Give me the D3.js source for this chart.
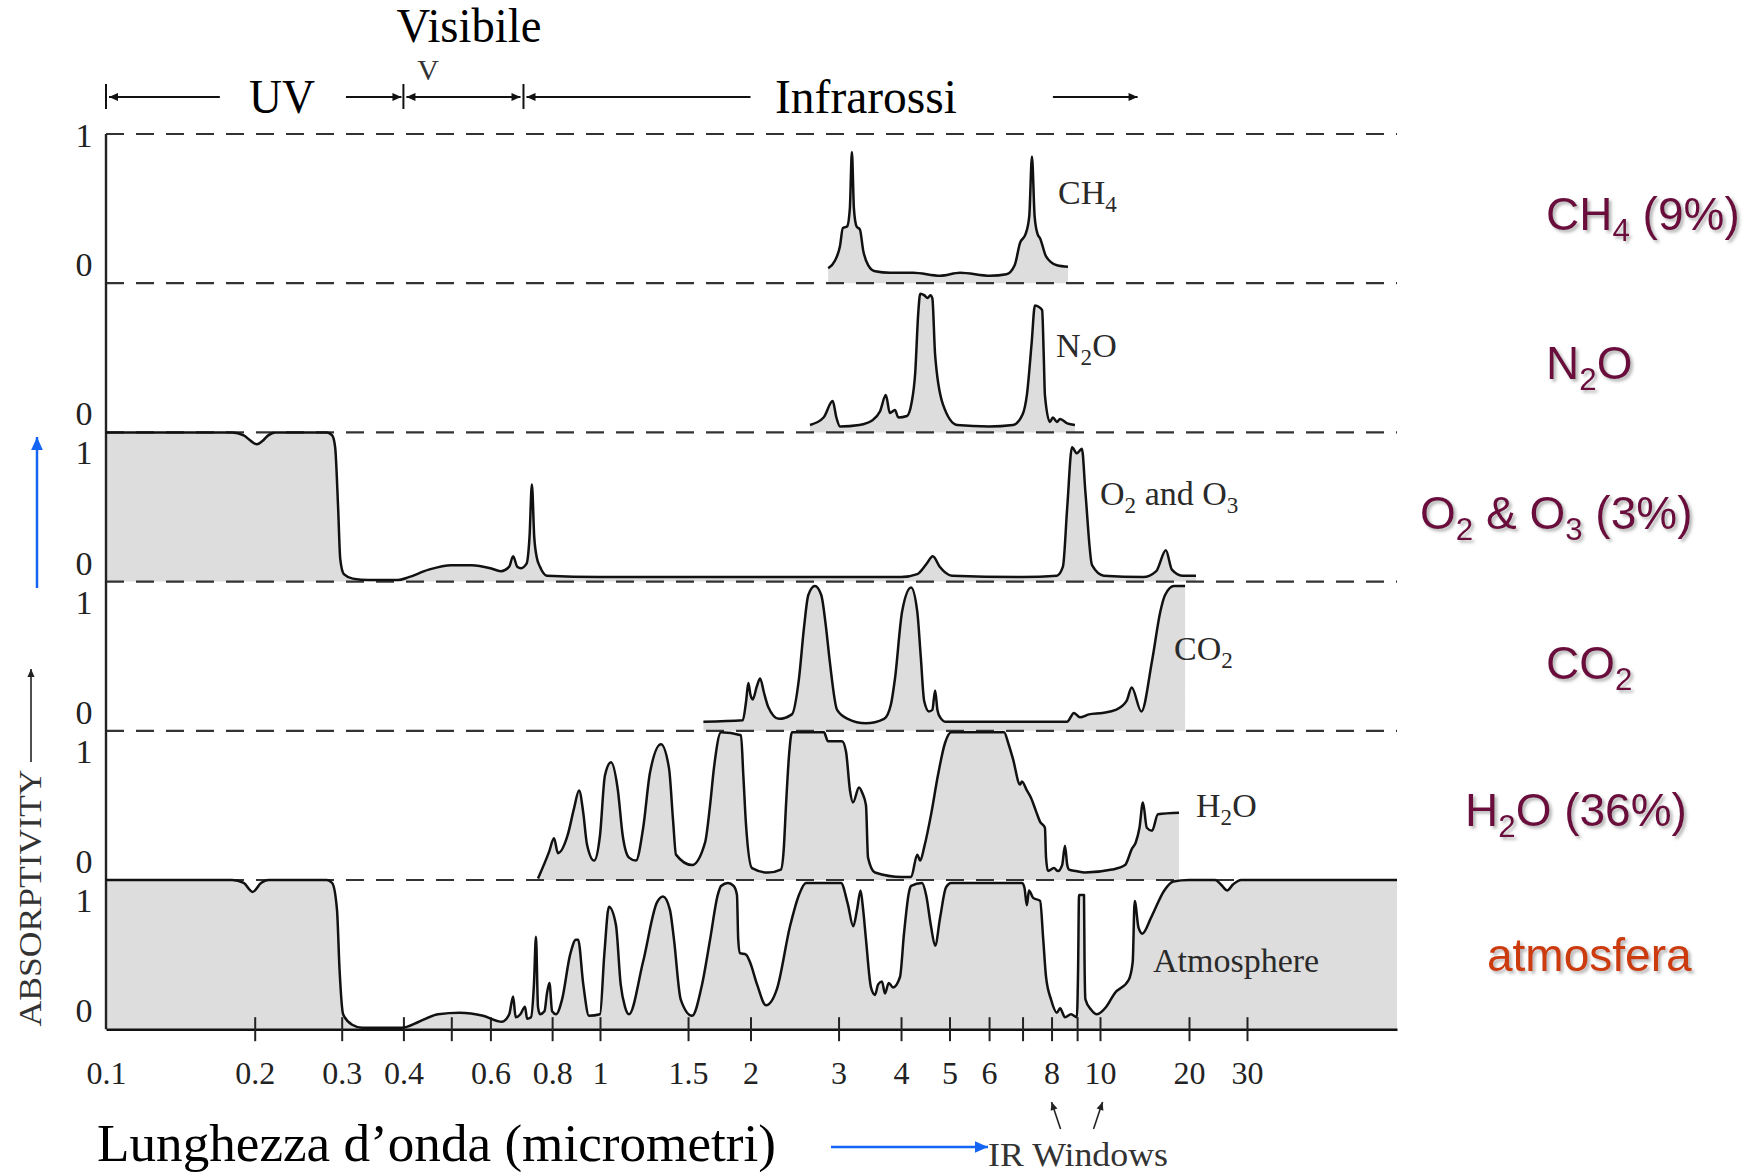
<!DOCTYPE html>
<html>
<head>
<meta charset="utf-8">
<script src="https://cdn.jsdelivr.net/npm/d3@7"></script>
<style>
  body { margin: 0; background: #fff; }
  svg { display: block; }
</style>
</head>
<body>
<svg id="chart" width="1750" height="1176"></svg>
<script>
// panels, top to bottom
var gases = ["CH{4}", "N{2}O", "O{2} and O{3}", "CO{2}", "H{2}O", "Atmosphere"];
var sideLabels = ["CH{4} (9%)", "N{2}O", "O{2} & O{3} (3%)", "CO{2}", "H{2}O (36%)", "atmosfera"];

// absorptivity spectra, [wavelength in micrometres, absorptivity 0..1]
var ch4 = [[2.86,0.10],[2.95,0.15],[3.02,0.25],[3.06,0.37],[3.12,0.38],[3.16,0.5],[3.19,0.88],[3.22,0.5],[3.26,0.38],
  [3.31,0.36],[3.36,0.22],[3.44,0.12],[3.55,0.08],[3.8,0.07],[4.23,0.07],[4.79,0.05],[5.25,0.07],[6.03,0.05],[6.5,0.06],
  [6.75,0.12],[6.92,0.27],[7.1,0.33],[7.22,0.45],[7.31,0.85],[7.4,0.45],[7.5,0.33],[7.59,0.30],[7.8,0.18],[8.2,0.12],[8.63,0.11]];

var n2o = [[2.63,0.05],[2.8,0.10],[2.92,0.21],[2.97,0.10],[3.02,0.04],[3.3,0.05],[3.5,0.08],[3.63,0.14],[3.73,0.25],[3.80,0.13],
  [3.89,0.15],[3.95,0.10],[4.11,0.11],[4.2,0.2],[4.27,0.40],[4.33,0.80],[4.37,0.93],[4.45,0.92],[4.52,0.90],[4.58,0.92],[4.62,0.90],
  [4.68,0.52],[4.85,0.19],[5.18,0.05],[6.0,0.04],[6.7,0.05],[7.0,0.12],[7.14,0.25],[7.3,0.6],[7.41,0.85],[7.55,0.84],[7.66,0.82],
  [7.72,0.5],[7.76,0.25],[7.94,0.07],[8.05,0.10],[8.2,0.07],[8.32,0.09],[8.6,0.06],[8.91,0.05]];

var o2o3 = [[0.1,1],[0.18,1],[0.19,0.98],[0.197,0.94],[0.202,0.92],[0.207,0.94],[0.213,0.98],[0.22,1],[0.28,1],[0.287,0.98],
  [0.291,0.9],[0.295,0.5],[0.298,0.15],[0.303,0.05],[0.316,0.02],[0.34,0.01],[0.39,0.01],[0.41,0.03],[0.45,0.08],[0.5,0.11],
  [0.55,0.11],[0.6,0.09],[0.63,0.07],[0.655,0.1],[0.667,0.17],[0.68,0.1],[0.692,0.09],[0.71,0.12],[0.72,0.3],[0.728,0.65],
  [0.736,0.3],[0.745,0.16],[0.756,0.1],[0.781,0.04],[1,0.03],[2,0.03],[4,0.03],[4.31,0.05],[4.5,0.12],[4.63,0.17],[4.78,0.1],
  [5.06,0.04],[7,0.03],[8.2,0.04],[8.43,0.1],[8.6,0.5],[8.79,0.9],[8.99,0.86],[9.2,0.89],[9.35,0.6],[9.64,0.11],[10.3,0.04],
  [14,0.03],[15.5,0.07],[16.7,0.21],[17.5,0.08],[19,0.04],[21,0.04]];

var co2 = [[1.61,0.06],[1.93,0.07],[1.96,0.2],[1.98,0.32],[2.0,0.24],[2.02,0.21],[2.06,0.3],[2.09,0.35],[2.13,0.25],[2.17,0.16],
  [2.28,0.08],[2.42,0.11],[2.5,0.35],[2.56,0.7],[2.61,0.91],[2.69,0.97],[2.77,0.91],[2.83,0.7],[2.88,0.47],[2.98,0.14],[3.13,0.08],
  [3.4,0.05],[3.7,0.08],[3.82,0.18],[3.89,0.35],[4.02,0.8],[4.19,0.96],[4.31,0.8],[4.38,0.5],[4.45,0.2],[4.55,0.13],[4.62,0.14],
  [4.68,0.27],[4.73,0.14],[4.79,0.09],[4.92,0.06],[8.59,0.06],[8.87,0.12],[9.12,0.09],[9.5,0.11],[10.2,0.12],[11.3,0.14],
  [12.3,0.2],[12.8,0.29],[13.8,0.13],[15.0,0.47],[16.0,0.8],[16.6,0.91],[17.8,0.97],[19.4,0.97]];

var h2o = [[0.749,0.01],[0.789,0.19],[0.807,0.28],[0.822,0.18],[0.86,0.3],[0.886,0.48],[0.907,0.6],[0.925,0.45],[0.941,0.24],
  [0.973,0.13],[1.0,0.3],[1.023,0.7],[1.052,0.79],[1.086,0.6],[1.11,0.3],[1.143,0.15],[1.18,0.13],[1.22,0.35],[1.259,0.72],
  [1.324,0.91],[1.374,0.75],[1.4,0.4],[1.419,0.17],[1.528,0.1],[1.622,0.25],[1.66,0.5],[1.69,0.75],[1.746,0.99],[1.914,0.97],
  [1.935,0.7],[1.959,0.37],[2.014,0.08],[2.168,0.05],[2.3,0.07],[2.33,0.2],[2.355,0.5],[2.39,0.85],[2.42,0.99],[2.805,0.99],
  [2.858,0.93],[3.048,0.93],[3.105,0.86],[3.162,0.6],[3.206,0.52],[3.296,0.62],[3.35,0.58],[3.404,0.5],[3.436,0.15],[3.548,0.05],
  [4.02,0.02],[4.19,0.02],[4.31,0.17],[4.37,0.13],[4.45,0.22],[4.6,0.45],[4.74,0.7],[4.9,0.92],[5.04,0.99],[6.43,0.99],[6.55,0.92],
  [6.7,0.81],[6.92,0.64],[6.98,0.66],[7.14,0.6],[7.28,0.55],[7.45,0.46],[7.59,0.39],[7.76,0.35],[7.8,0.15],[7.87,0.06],[8.09,0.08],
  [8.24,0.06],[8.4,0.1],[8.51,0.23],[8.6,0.1],[8.67,0.07],[8.95,0.06],[9.33,0.05],[10.98,0.07],[12.15,0.1],[12.83,0.21],[13.2,0.25],
  [13.6,0.35],[13.97,0.52],[14.4,0.35],[15.0,0.33],[15.7,0.44],[18.5,0.45]];

var atmosphere = [[0.1,1],[0.18,1],[0.19,0.98],[0.198,0.92],[0.206,0.98],[0.213,1],[0.28,1],[0.287,0.98],[0.2935,0.8],[0.297,0.4],
  [0.302,0.1],[0.315,0.03],[0.33,0.01],[0.397,0.01],[0.43,0.05],[0.47,0.1],[0.52,0.11],[0.58,0.09],[0.633,0.05],[0.655,0.1],
  [0.667,0.22],[0.675,0.08],[0.69,0.1],[0.705,0.15],[0.712,0.07],[0.725,0.08],[0.735,0.3],[0.742,0.62],[0.749,0.15],[0.756,0.1],
  [0.772,0.12],[0.781,0.24],[0.79,0.31],[0.8,0.12],[0.815,0.1],[0.838,0.2],[0.87,0.5],[0.894,0.6],[0.903,0.6],[0.925,0.3],
  [0.95,0.09],[1.0,0.1],[1.02,0.5],[1.042,0.82],[1.076,0.7],[1.1,0.3],[1.122,0.15],[1.143,0.1],[1.219,0.45],[1.3,0.85],[1.337,0.89],
  [1.38,0.8],[1.406,0.6],[1.45,0.2],[1.528,0.09],[1.6,0.3],[1.66,0.6],[1.72,0.9],[1.746,0.96],[1.803,0.98],[1.85,0.96],[1.879,0.9],
  [1.89,0.6],[1.905,0.51],[1.959,0.5],[1.995,0.45],[2.061,0.3],[2.148,0.16],[2.259,0.27],[2.399,0.69],[2.5,0.9],[2.582,0.98],
  [3.034,0.98],[3.13,0.84],[3.21,0.69],[3.266,0.8],[3.32,0.93],[3.36,0.8],[3.404,0.6],[3.483,0.28],[3.548,0.23],[3.6,0.3],
  [3.664,0.32],[3.715,0.24],[3.78,0.31],[3.855,0.28],[3.981,0.35],[4.055,0.64],[4.15,0.92],[4.19,0.96],[4.406,0.98],[4.49,0.9],
  [4.592,0.69],[4.68,0.56],[4.79,0.75],[4.92,0.95],[5.04,0.98],[6.98,0.98],[7.06,0.95],[7.14,0.83],[7.21,0.93],[7.35,0.88],
  [7.59,0.86],[7.7,0.6],[7.8,0.35],[7.98,0.2],[8.2,0.11],[8.32,0.14],[8.51,0.08],[8.75,0.1],[8.99,0.08],[9.04,0.4],[9.08,0.9],
  [9.29,0.9],[9.31,0.5],[9.35,0.2],[9.6,0.13],[9.86,0.1],[10.5,0.15],[11.2,0.24],[12.5,0.33],[12.9,0.45],[13.1,0.86],[13.5,0.68],
  [13.9,0.64],[14.9,0.75],[16.5,0.93],[17.7,0.99],[20,1],[24,1],[25,0.97],[26.1,0.93],[27.2,0.97],[28.8,1],[80,1]];

var spectra = [ch4, n2o, o2o3, co2, h2o, atmosphere];

var tickValues = [0.1,0.2,0.3,0.4,0.5,0.6,0.8,1,1.5,2,3,4,5,6,7,8,9,10,20,30];
var tickLabels = [0.1,0.2,0.3,0.4,0.6,0.8,1,1.5,2,3,4,5,6,8,10,20,30];
var showOne = [true, false, true, true, true, true];

var left = 106, right = 1397, top0 = 134, panelH = 149.2;
var serif = "'Liberation Serif', 'Times New Roman', serif";
var sans = "'Liberation Sans', Arial, sans-serif";

var svg = d3.select("#chart");

// the original axis is log scaled but squeezed past 10 micrometres
var x = d3.scaleLog()
    .domain([0.1, 1, 10, 20, 30, 80])
    .range([left, 600, 1100, 1189, 1247, right]);

function yPanel(i) {
  return d3.scaleLinear().domain([0, 1]).range([top0 + (i+1)*panelH, top0 + i*panelH]);
}

////////////////////////////  DEFS  ////////////////////////////
var defs = svg.append("defs");
function marker(id, color, w, h) {
  defs.append("marker").attr("id", id)
      .attr("viewBox", "0 0 10 10").attr("refX", 10).attr("refY", 5)
      .attr("markerWidth", w).attr("markerHeight", h)
      .attr("markerUnits", "userSpaceOnUse")
      .attr("orient", "auto-start-reverse")
    .append("path").attr("d", "M0,0.5 L10,5 L0,9.5 Z").attr("fill", color);
}
marker("head", "#111", 13, 9);
marker("smallhead", "#222", 10, 8);
marker("bluehead", "#1565f5", 16, 13);

var shadow = defs.append("filter").attr("id", "shadow")
    .attr("x", "-10%").attr("y", "-30%").attr("width", "130%").attr("height", "170%");
shadow.append("feDropShadow").attr("dx", 2.5).attr("dy", 2.5).attr("stdDeviation", 1.6)
    .attr("flood-color", "#666").attr("flood-opacity", 0.5);

function subText(sel, str, size) {
  var parts = str.split(/[{}]/);
  var off = size * 0.24;
  parts.forEach(function(p, k) {
    if (p === "") return;
    var t = sel.append("tspan").text(p);
    if (k % 2 == 1) {
      t.attr("font-size", size*0.68).attr("dy", off);
    } else if (k > 0) {
      t.attr("dy", -off);
    }
  });
}

////////////////////////////  FILLS  ////////////////////////////
spectra.forEach(function(s, i) {
  var y = yPanel(i);
  var area = d3.area()
      .x(function(d) { return x(d[0]); })
      .y0(y(0))
      .y1(function(d) { return y(d[1]); })
      .curve(d3.curveMonotoneX);
  svg.append("path").datum(s).attr("d", area).attr("fill", "#dddddd");
});

////////////////////////////  GRID & AXES  ////////////////////////////
d3.range(6).forEach(function(k) {
  var yy = top0 + k*panelH;
  svg.append("line")
      .attr("x1", left).attr("x2", right).attr("y1", yy).attr("y2", yy)
      .attr("stroke", "#333").attr("stroke-width", 2.2)
      .attr("stroke-dasharray", "18,12");
});

svg.append("line")
    .attr("x1", left).attr("x2", left)
    .attr("y1", top0).attr("y2", top0 + 6*panelH)
    .attr("stroke", "#222").attr("stroke-width", 2.4);

var gx = svg.append("g")
    .attr("transform", "translate(0," + (top0 + 6*panelH) + ")")
    .call(d3.axisBottom(x)
      .tickValues(tickValues)
      .tickSizeOuter(0)
      .tickFormat(function(d) { return tickLabels.indexOf(d) >= 0 ? String(d) : ""; }));
gx.attr("font-family", serif).attr("font-size", 32);
gx.select(".domain").attr("stroke", "#111").attr("stroke-width", 2.6);
gx.selectAll(".tick line")
    .attr("y1", -12).attr("y2", 12)
    .attr("stroke", "#222").attr("stroke-width", 2)
    .attr("opacity", function(d) { return d == 0.1 ? 0 : 1; });
gx.selectAll(".tick text")
    .attr("y", 55).attr("dy", null)
    .attr("fill", "#222");

// 0 / 1 labels of each panel
d3.range(6).forEach(function(i) {
  var y = yPanel(i);
  svg.append("text").attr("x", 84).attr("y", y(0) - 7)
      .attr("text-anchor", "middle").attr("font-family", serif).attr("font-size", 34)
      .attr("fill", "#222").text("0");
  if (showOne[i]) {
    svg.append("text").attr("x", 84).attr("y", y(1) + (i == 0 ? 13 : 32))
        .attr("text-anchor", "middle").attr("font-family", serif).attr("font-size", 34)
        .attr("fill", "#222").text("1");
  }
});

////////////////////////////  CURVES  ////////////////////////////
spectra.forEach(function(s, i) {
  var y = yPanel(i);
  var line = d3.line()
      .x(function(d) { return x(d[0]); })
      .y(function(d) { return y(d[1]); })
      .curve(d3.curveMonotoneX);
  svg.append("path").datum(s).attr("d", line)
      .attr("fill", "none").attr("stroke", "#111").attr("stroke-width", 2.5)
      .attr("stroke-linejoin", "round");
});

// labels inside the panels
var innerPos = [[1058, 204], [1056, 357], [1100, 505], [1174, 660], [1196, 817], [1153, 972]];
gases.forEach(function(g, i) {
  var t = svg.append("text").attr("x", innerPos[i][0]).attr("y", innerPos[i][1])
      .attr("font-family", serif).attr("font-size", 34).attr("fill", "#2a2a2a");
  subText(t, g, 34);
});

// labels on the right
var sidePos = [[1546, 230], [1546, 379], [1420, 529], [1546, 679], [1465, 826], [1487, 971]];
sideLabels.forEach(function(g, i) {
  var t = svg.append("text").attr("x", sidePos[i][0]).attr("y", sidePos[i][1])
      .attr("font-family", sans).attr("font-size", 46)
      .attr("fill", i == 5 ? "#cc3a08" : "#6a0e3e")
      .attr("filter", "url(#shadow)");
  subText(t, g, 46);
});

////////////////////////////  HEADER  ////////////////////////////
var hy = 97;
[0.1, 0.4, 0.7].forEach(function(v) {
  svg.append("line").attr("x1", x(v)).attr("x2", x(v)).attr("y1", hy - 13).attr("y2", hy + 12)
      .attr("stroke", "#111").attr("stroke-width", 2);
});
function arrow(x1, x2, both) {
  var l = svg.append("line").attr("x1", x1).attr("x2", x2).attr("y1", hy).attr("y2", hy)
      .attr("stroke", "#111").attr("stroke-width", 2)
      .attr("marker-end", "url(#head)");
  if (both) l.attr("marker-start", "url(#head)");
}
arrow(x(0.17), x(0.1) + 3);
arrow(x(0.306), x(0.4) - 2);
arrow(x(0.4) + 3, x(0.7) - 3, true);
arrow(x(2.0), x(0.7) + 3);
arrow(x(8.05), x(13.4));

svg.append("text").attr("x", 282).attr("y", 113).attr("text-anchor", "middle")
    .attr("font-family", serif).attr("font-size", 48)
    .attr("textLength", 66).attr("lengthAdjust", "spacingAndGlyphs").text("UV");
svg.append("text").attr("x", 866).attr("y", 113).attr("text-anchor", "middle")
    .attr("font-family", serif).attr("font-size", 48)
    .attr("textLength", 182).attr("lengthAdjust", "spacingAndGlyphs").text("Infrarossi");
svg.append("text").attr("x", 469).attr("y", 42).attr("text-anchor", "middle")
    .attr("font-family", serif).attr("font-size", 48)
    .attr("textLength", 145).attr("lengthAdjust", "spacingAndGlyphs").text("Visibile");
svg.append("text").attr("x", 428).attr("y", 80).attr("text-anchor", "middle")
    .attr("font-family", serif).attr("font-size", 30).attr("fill", "#333").text("V");

////////////////////////////  FOOTER & SIDE  ////////////////////////////
svg.append("text").attr("x", 97).attr("y", 1161)
    .attr("font-family", serif).attr("font-size", 52)
    .attr("textLength", 679).attr("lengthAdjust", "spacingAndGlyphs")
    .text("Lunghezza d\u2019onda (micrometri)");

svg.append("line").attr("x1", 831).attr("x2", 988).attr("y1", 1147).attr("y2", 1147)
    .attr("stroke", "#1565f5").attr("stroke-width", 2.5).attr("marker-end", "url(#bluehead)");
svg.append("line").attr("x1", 37).attr("x2", 37).attr("y1", 588).attr("y2", 437)
    .attr("stroke", "#1565f5").attr("stroke-width", 2.5).attr("marker-end", "url(#bluehead)");

svg.append("text").attr("x", 988).attr("y", 1166)
    .attr("font-family", serif).attr("font-size", 33).attr("fill", "#333")
    .attr("textLength", 180).attr("lengthAdjust", "spacingAndGlyphs").text("IR Windows");

// IR window pointers
[[8, 9], [10.2, -9]].forEach(function(p) {
  svg.append("line")
      .attr("x1", x(p[0]) + p[1]).attr("y1", 1129)
      .attr("x2", x(p[0])).attr("y2", 1102)
      .attr("stroke", "#222").attr("stroke-width", 1.6)
      .attr("marker-end", "url(#smallhead)");
});

svg.append("text")
    .attr("transform", "translate(41,898) rotate(-90)")
    .attr("text-anchor", "middle")
    .attr("font-family", serif).attr("font-size", 31).attr("fill", "#333")
    .attr("textLength", 257).attr("lengthAdjust", "spacingAndGlyphs")
    .text("ABSORPTIVITY");
svg.append("line").attr("x1", 31).attr("x2", 31).attr("y1", 762).attr("y2", 669)
    .attr("stroke", "#222").attr("stroke-width", 1.6).attr("marker-end", "url(#smallhead)");
</script>
</body>
</html>
